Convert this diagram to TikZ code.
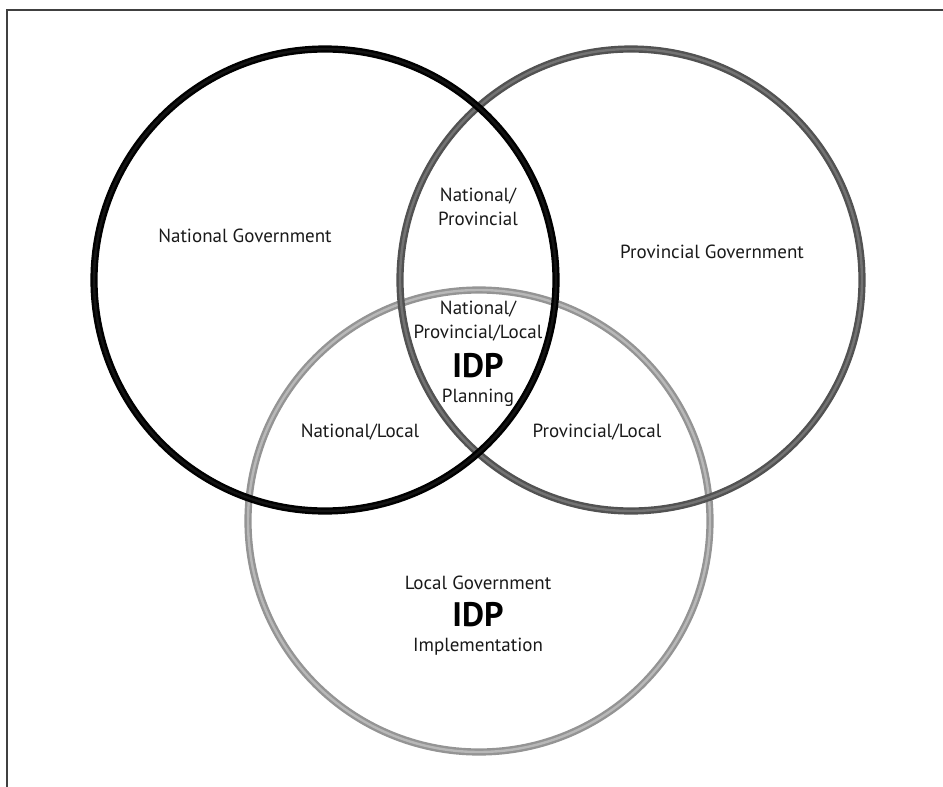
\documentclass[tikz,border=0pt]{standalone}
\usepackage{fontspec}
\setmainfont{PT Sans}
\usetikzlibrary{positioning}

\tikzset{
  ring/.style={circle, minimum size=462pt, inner sep=0pt, line width=2.4pt, double distance=2.4pt},
  lbl/.style={font=\fontsize{19}{24}\selectfont, text=black!90, align=center, inner sep=0pt},
  idp/.style={font=\fontsize{34}{38}\selectfont\bfseries, inner sep=0pt}
}

\begin{document}
\begin{tikzpicture}[x=1pt,y=-1pt]
\useasboundingbox (0,0) rectangle (943,787);
% frame
\draw[line width=2pt, black!75] (6.5,787) -- (6.5,10) -- (943,10);

% the three spheres
\node[ring, draw=black!42, double=black!28] (loc)  at (479,521) {};
\node[ring, draw=black!68, double=black!55] (prov) at (631,280) {};
\node[ring, draw=black,    double=black!92] (nat)  at (325,280) {};

% labels
\node[lbl] (natgov)  at (245,236) {National Government};
\node[lbl] (provgov) at (712,252) {Provincial Government};
\node[lbl] (natprov) at (478,207) {National/\\Provincial};
\node[lbl] (natloc)  at (360,432) {National/Local};
\node[lbl] (provloc) at (597,432) {Provincial/Local};
\node[lbl] (all)     at (478,321) {National/\\Provincial/Local};
\node[idp] (allidp)  at (478,366) {IDP};
\node[lbl] (plan)    at (478,398) {Planning};
\node[lbl] (locgov)  at (478,583) {Local Government};
\node[idp] (locidp)  at (478,615) {IDP};
\node[lbl] (impl)    at (478,647) {Implementation};
\end{tikzpicture}
\end{document}
